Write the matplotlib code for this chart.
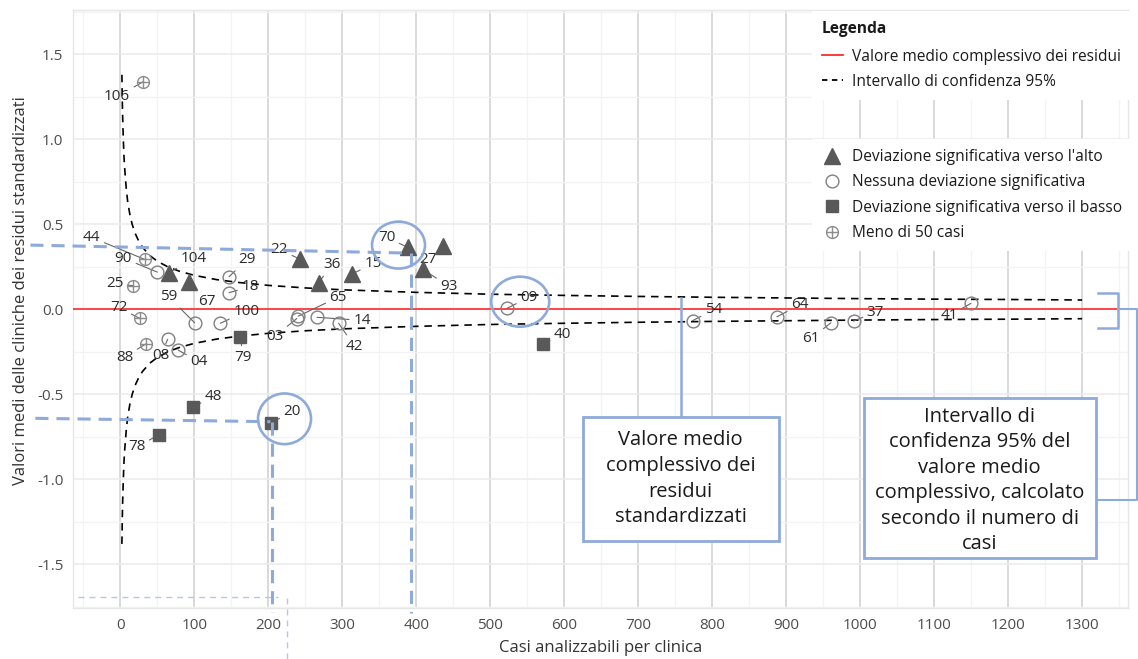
import matplotlib
matplotlib.use("Agg")
import matplotlib.pyplot as plt
from matplotlib.lines import Line2D
from matplotlib.patches import Ellipse, Rectangle
from matplotlib.legend_handler import HandlerTuple
from matplotlib.ticker import MultipleLocator, FuncFormatter

plt.rcParams['font.family'] = ['Open Sans', 'DejaVu Sans']
plt.rcParams['axes.unicode_minus'] = False

# ---------------- data ----------------
clinics = ["106", "44", "90", "25", "72", "08", "88", "104", "67", "59",
           "29", "18", "100", "04", "79", "48", "20", "78", "22", "36",
           "15", "70", "27", "93", "65", "03", "14", "42", "09", "40",
           "54", "64", "61", "37", "41"]
cases = [30.7, 32.8, 50.0, 17.2, 26.1, 64.0, 34.2, 65.3, 92.8, 100.4,
         146.9, 146.9, 135.1, 78.0, 162.2, 97.7, 204.0, 51.8, 243.2, 268.0,
         313.0, 388.2, 436.0, 409.0, 240.5, 238.5, 265.8, 295.0, 522.6, 570.7,
         773.4, 887.4, 960.4, 991.0, 1149.6]
residuals = [1.339, 0.294, 0.219, 0.139, -0.053, -0.176, -0.204, 0.215, 0.162, -0.079,
             0.192, 0.098, -0.082, -0.239, -0.165, -0.576, -0.667, -0.739, 0.294, 0.156,
             0.208, 0.365, 0.372, 0.235, -0.040, -0.054, -0.047, -0.082, 0.006, -0.206,
             -0.067, -0.044, -0.079, -0.069, 0.035]
groups = ["few", "few", "none", "few", "few", "none", "few", "up", "up", "none",
          "none", "none", "none", "none", "down", "down", "down", "down", "up", "up",
          "up", "up", "up", "up", "none", "none", "none", "none", "none", "down",
          "none", "none", "none", "none", "none"]

# 95% confidence band half-width
ci_n = [2.1, 2.5, 3, 4, 5, 6, 8, 10, 13, 16, 20, 25, 30, 40, 50, 65, 80, 100,
        130, 160, 200, 250, 300, 400, 500, 600, 700, 800, 900, 1000, 1100, 1200, 1300]
ci_half = [1.38, 1.26, 1.15, 1.0, 0.89, 0.82, 0.71, 0.63, 0.555, 0.50, 0.447, 0.40,
           0.365, 0.316, 0.283, 0.248, 0.224, 0.20, 0.175, 0.158, 0.141, 0.126, 0.115,
           0.10, 0.089, 0.082, 0.076, 0.071, 0.067, 0.063, 0.060, 0.058, 0.055]

overall_mean = 0.0

legend1_labels = ["Valore medio complessivo dei residui", "Intervallo di confidenza 95%"]
legend2_labels = ["Deviazione significativa verso l'alto", "Nessuna deviazione significativa",
                  "Deviazione significativa verso il basso", "Meno di 50 casi"]

# label offsets (pixels: right, down) from each point
label_offsets = {
    "106": (-26, 15), "44": (-53, -22), "90": (-34, -14), "25": (-18, -2),
    "72": (-21, -11), "08": (-7, 16), "88": (-21, 13), "104": (25, -14),
    "67": (18, 20), "59": (-26, -26), "29": (18, -17), "18": (21, -6),
    "100": (26, -12), "04": (21, 12), "79": (3, 20), "48": (21, -11),
    "20": (21, -11), "78": (-22, 12), "22": (-21, -10), "36": (13, -18),
    "15": (21, -10), "70": (-21, -10), "27": (-15, 13), "93": (26, 17),
    "65": (40, -19), "03": (-22, 18), "14": (45, 3), "42": (16, 23),
    "09": (22, -11), "40": (20, -10), "54": (21, -11), "64": (23, -12),
    "61": (-20, 16), "37": (22, -9), "41": (-21, 12),
}

# ---------------- figure ----------------
W, H = 1138, 659
fig = plt.figure(figsize=(W / 100, H / 100), dpi=100)
ax = fig.add_axes([73 / W, 1 - 608 / H, (1128 - 73) / W, (608 - 9.5) / H])

ax.set_xlim(-64, 1362)
ax.set_ylim(-1.757, 1.764)

ax.xaxis.set_major_locator(MultipleLocator(100))
ax.xaxis.set_minor_locator(MultipleLocator(50))
ax.yaxis.set_major_locator(MultipleLocator(0.5))
ax.yaxis.set_minor_locator(MultipleLocator(0.25))
ax.yaxis.set_major_formatter(FuncFormatter(lambda v, p: f"{v:.1f}"))
ax.xaxis.set_major_formatter(FuncFormatter(lambda v, p: f"{v:.0f}"))

ax.grid(which='major', axis='x', color='#d9d9d9', lw=1.4)
ax.grid(which='major', axis='y', color='#ebebeb', lw=1.1)
ax.grid(which='minor', axis='both', color='#f3f3f3', lw=0.9)
ax.set_axisbelow(True)
for s in ax.spines.values():
    s.set_color('#e6e6e6')
    s.set_linewidth(1.0)
ax.tick_params(which='both', length=0, labelsize=11, labelcolor='#4d4d4d', pad=7)

ax.set_xlabel("Casi analizzabili per clinica", fontsize=12, color='#333333')
ax.set_ylabel("Valori medi delle cliniche dei residui standardizzati", fontsize=12, color='#333333')
ax.xaxis.set_label_coords(0.5, -0.053)
ax.yaxis.set_label_coords(-0.042, 0.531)

# mean line and CI
ax.axhline(overall_mean, color='#ff2a2a', lw=1.2, zorder=3)
ci_style = dict(color='black', lw=1.2, ls=(0, (4.5, 3.5)), zorder=3)
ax.plot(ci_n, ci_half, **ci_style)
ax.plot(ci_n, [-v for v in ci_half], **ci_style)

# points
dark = '#595959'
light = '#808080'
for g in ["up", "none", "down", "few"]:
    xs = [c for c, gg in zip(cases, groups) if gg == g]
    ys = [r for r, gg in zip(residuals, groups) if gg == g]
    if g == "up":
        ax.plot(xs, ys, '^', color=dark, ms=11, ls='none', zorder=6)
    elif g == "down":
        ax.plot(xs, ys, 's', color=dark, ms=8.8, ls='none', zorder=6)
    elif g == "none":
        ax.plot(xs, ys, 'o', mfc='none', mec=light, mew=1.0, ms=9.2, ls='none', zorder=6)
    else:
        ax.plot(xs, ys, 'o', mfc='none', mec='#8c8c8c', mew=1.0, ms=8.5, ls='none', zorder=6)
        ax.plot(xs, ys, '+', color='#8c8c8c', mew=1.0, ms=8.5, ls='none', zorder=6)

for lbl, x, y in zip(clinics, cases, residuals):
    dx, dy = label_offsets[lbl]
    ax.annotate(lbl, xy=(x, y), xytext=(dx * 0.72, -dy * 0.72), textcoords='offset points',
                ha='center', va='center', fontsize=11, color='#2b2b2b', zorder=5,
                arrowprops=dict(arrowstyle='-', color='#666666', lw=0.8,
                                shrinkA=1, shrinkB=0))

# ---------------- legends ----------------
leg_kw = dict(loc='upper left', bbox_transform=fig.transFigure, fontsize=11.2,
              frameon=True, fancybox=False, framealpha=1, edgecolor='none',
              facecolor='white', borderaxespad=0, borderpad=0.64, handlelength=1.35,
              handletextpad=0.58, labelspacing=0.6, labelcolor='#1a1a1a')

h1 = [Line2D([], [], color='#ff2a2a', lw=1.3),
      Line2D([], [], color='black', lw=1.3, ls=(0, (3, 2.5)))]
leg1 = ax.legend(h1, legend1_labels, title="Legenda", bbox_to_anchor=(812 / W, 1 - 11 / H),
                 title_fontproperties={'weight': 'bold', 'size': 11.2}, alignment='left',
                 **leg_kw)
leg1.get_title().set_color('#1a1a1a')
leg1._legend_box.sep = 0.6 * 11.2 + 1.6
ax.add_artist(leg1)

h2 = [Line2D([], [], marker='^', color=dark, ms=11, ls='none'),
      Line2D([], [], marker='o', mfc='none', mec=light, mew=1.0, ms=9.2, ls='none'),
      Line2D([], [], marker='s', color=dark, ms=8.8, ls='none'),
      (Line2D([], [], marker='o', mfc='none', mec='#8c8c8c', mew=1.0, ms=8.5, ls='none'),
       Line2D([], [], marker='+', color='#8c8c8c', mew=1.0, ms=8.5, ls='none'))]
leg2 = ax.legend(h2, legend2_labels, bbox_to_anchor=(812 / W, 1 - 139 / H),
                 handler_map={tuple: HandlerTuple(ndivide=1)}, **leg_kw)

# ---------------- explanatory annotations ----------------
blue = '#8eaadb'
blue_light = '#b4c7e7'
thick_dash = dict(color=blue, lw=2.2, ls=(0, (4.3, 2.6)), clip_on=False, zorder=7)
thin_dash = dict(color=blue_light, lw=1.0, ls=(0, (4.3, 3.6)), clip_on=False, zorder=7)

# clinic 70: horizontal + vertical guide
ax.plot([-121.6, 389.2], [0.378, 0.331], **thick_dash)
ax.plot([392.8, 392.8], [0.331, -1.786], **thick_dash)
# clinic 20: horizontal + vertical guide
ax.plot([-114.9, 202.7], [-0.641, -0.661], **thick_dash)
ax.plot([205.4, 205.4], [-0.661, -1.781], **thick_dash)
# thin guides near the bottom
ax.plot([-56.8, 213.5], [-1.695, -1.695], **thin_dash)
ax.plot([225.3, 225.3], [-1.698, -2.06], **thin_dash)

# highlight circles
for cx, cy, w, h in [(376, 0.378, 71.6, 0.276), (221.9, -0.644, 71.6, 0.298),
                     (540.5, 0.045, 78.4, 0.294)]:
    ax.add_patch(Ellipse((cx, cy), w, h, fill=False, ec=blue, lw=1.9, zorder=7))

box_txt = dict(ha='center', va='center', fontsize=14.5, color='#1a1a1a',
               linespacing=1.37, zorder=9)

# callout 1: overall mean
b1x0, b1x1, b1y0, b1y1 = 625.3, 889.6, -1.361, -0.632
ax.plot([757.7, 757.7], [0.066, b1y1], color=blue, lw=1.8, zorder=7)
ax.add_patch(Rectangle((b1x0, b1y0), b1x1 - b1x0, b1y1 - b1y0, fc='white',
                       ec=blue, lw=2.0, zorder=8))
ax.text((b1x0 + b1x1) / 2, (b1y0 + b1y1) / 2,
        "Valore medio\ncomplessivo dei\nresidui\nstandardizzati", **box_txt)

# callout 2: confidence interval
b2x0, b2x1, b2y0, b2y1 = 1004.5, 1318.9, -1.465, -0.524
ax.plot([1322, 1349, 1349, 1322], [0.098, 0.098, -0.112, -0.112], color=blue, lw=1.8,
        clip_on=False, zorder=7)
ax.plot([1349, 1374, 1374, b2x1], [0.0, 0.0, -1.122, -1.122], color=blue, lw=1.5,
        clip_on=False, zorder=7)
ax.add_patch(Rectangle((b2x0, b2y0), b2x1 - b2x0, b2y1 - b2y0, fc='white',
                       ec=blue, lw=2.0, zorder=8))
ax.text((b2x0 + b2x1) / 2, (b2y0 + b2y1) / 2 - 0.012,
        "Intervallo di\nconfidenza 95% del\nvalore medio\ncomplessivo, calcolato\nsecondo il numero di\ncasi",
        **box_txt)

fig.savefig("out.png", dpi=100)
